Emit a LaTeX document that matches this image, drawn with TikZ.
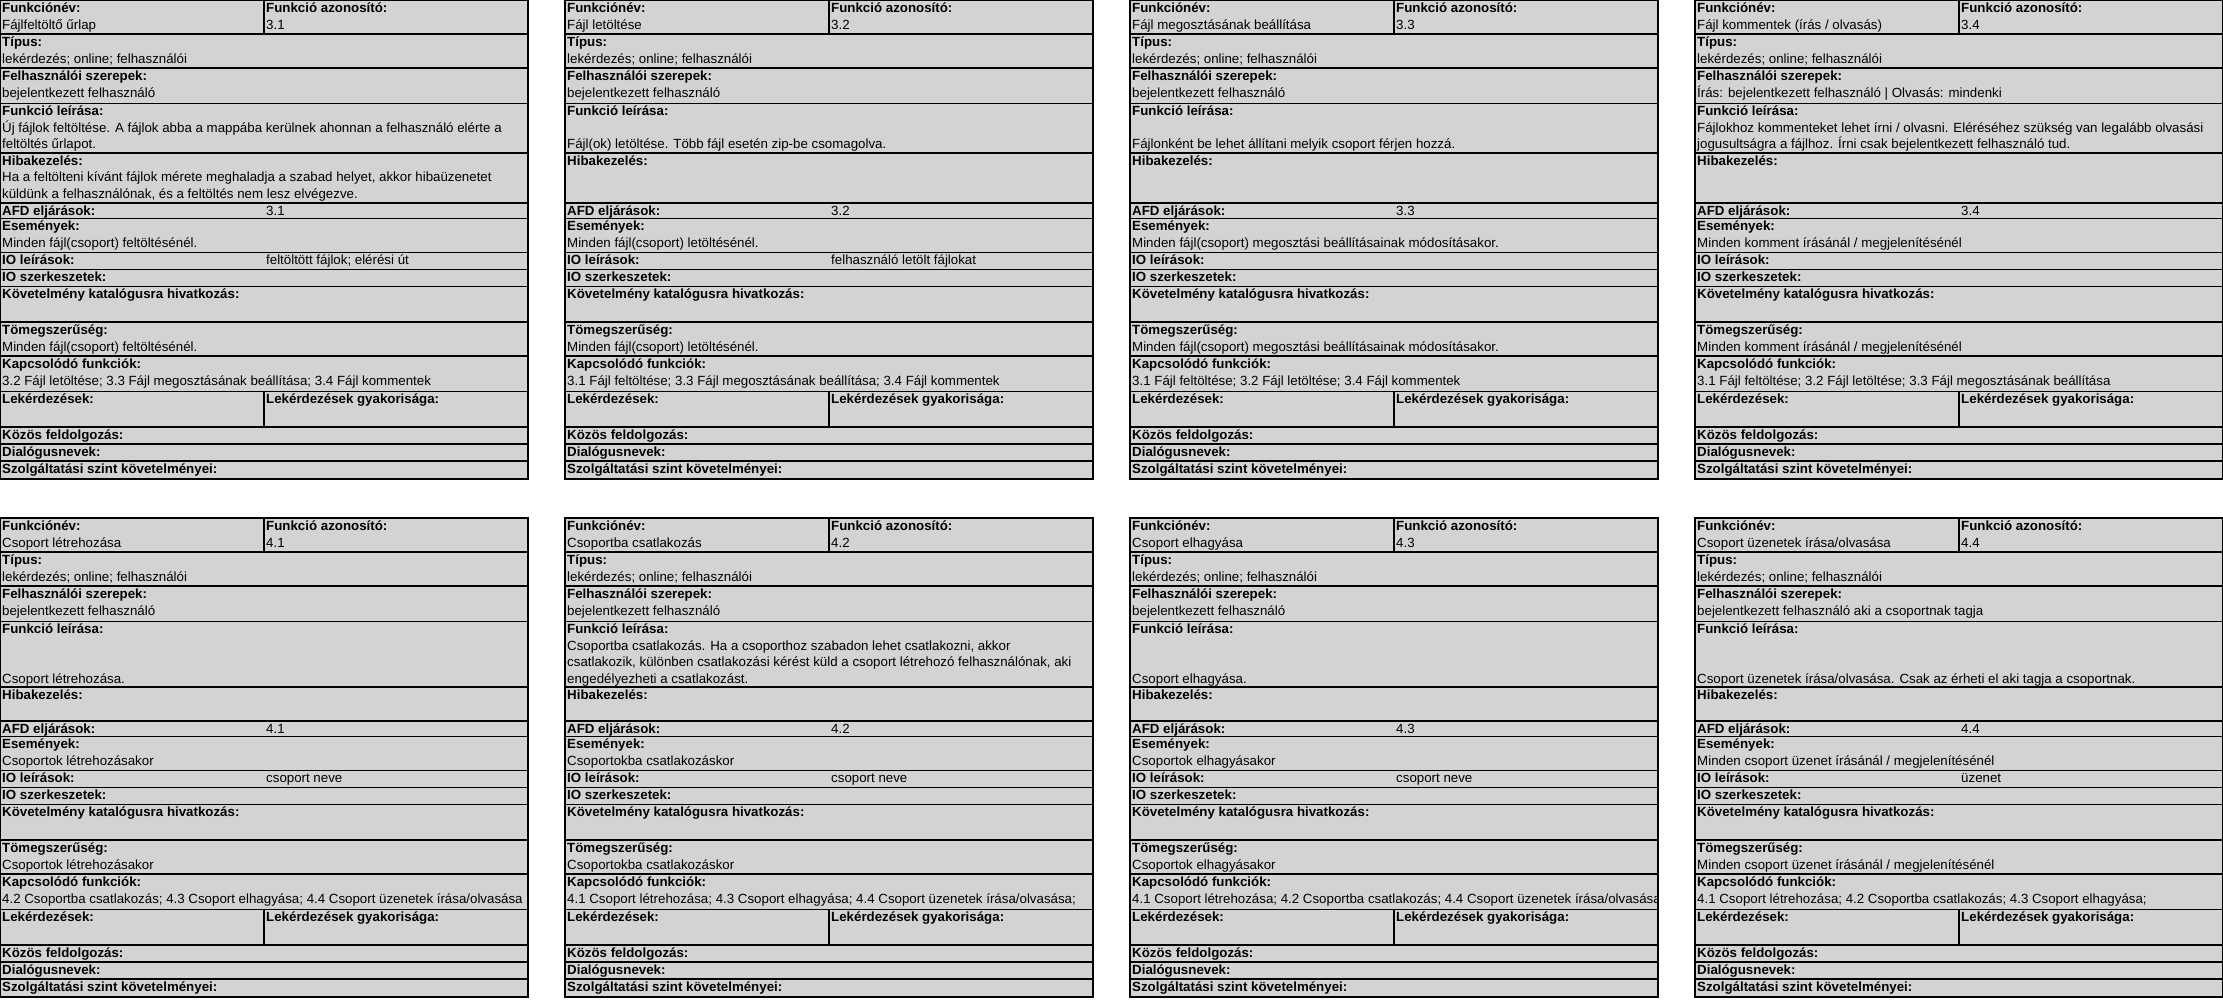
\documentclass[tikz,border=0pt]{standalone}
\usepackage{fontspec}
\setmainfont{Liberation Sans}

\definecolor{cellaszurke}{RGB}{211,211,211}
\tikzset{
  cella/.style={fill=cellaszurke},
  racs/.style={line width=1.2pt},
  cim/.style={anchor=base west, inner sep=0pt, font=\fontsize{13.3}{16}\selectfont\bfseries},
  ertek/.style={anchor=base west, inner sep=0pt, font=\fontsize{13.3}{16}\selectfont}
}

% #1 prefix, #2/#3 bal felso sarok, #4 leiras/hibakezeles hatar, #5 ertekek
\newcommand{\urlap}[5]{%
  \begin{scope}[shift={(#2,#3)}]
    \fill[cella] (0,0) rectangle (528,479);
    \begin{scope}
      \clip (0,0) rectangle (528,479);
      \foreach \y/\t [count=\i] in {12/Funkciónév:, 46/Típus:, 80/Felhasználói szerepek:,
          115.5/Funkció leírása:, 215/AFD eljárások:, 230.5/Események:, 264.5/IO leírások:,
          281.5/IO szerkeszetek:, 298.5/Követelmény katalógusra hivatkozás:, 334/Tömegszerűség:,
          368/Kapcsolódó funkciók:, 403.5/Lekérdezések:, 439/Közös feldolgozás:,
          456/Dialógusnevek:, 473/Szolgáltatási szint követelményei:}
        \node[cim] (#1-c\i) at (2,\y) {\t};
      \node[cim] (#1-azon) at (266,12) {Funkció azonosító:};
      \node[cim] (#1-hiba) at (2,{#4+12}) {Hibakezelés:};
      \node[cim] (#1-gyak) at (266,403.5) {Lekérdezések gyakorisága:};
      \node[ertek] (#1-tipus) at (2,63) {lekérdezés; online; felhasználói};
      #5
    \end{scope}
    \foreach \y in {34,68,103.5,#4,203,218.5,252.5,269.5,286.5,322,356,391.5,427,444,461}
      \draw[racs] (0,\y) -- (528,\y);
    \draw[racs] (264,0) -- (264,34);
    \draw[racs] (264,391.5) -- (264,427);
    \draw[racs] (0,0) rectangle (528,479);
  \end{scope}}

\begin{document}
\begin{tikzpicture}[x=1pt,y=-1pt]
  \useasboundingbox (0,0) rectangle (2223,999);

  %%%%% 3.x %%%%%
  \urlap{a1}{0}{0}{153}{
    \node[ertek] (a1-nev) at (2,29) {Fájlfeltöltő űrlap};
    \node[ertek] (a1-id) at (266,29) {3.1};
    \node[ertek] (a1-szerep) at (2,97) {bejelentkezett felhasználó};
    \node[ertek] (a1-leir1) at (2,132) {Új fájlok feltöltése. A fájlok abba a mappába kerülnek ahonnan a felhasználó elérte a};
    \node[ertek] (a1-leir2) at (2,148.5) {feltöltés űrlapot.};
    \node[ertek] (a1-hiba1) at (2,181.5) {Ha a feltölteni kívánt fájlok mérete meghaladja a szabad helyet, akkor hibaüzenetet};
    \node[ertek] (a1-hiba2) at (2,198) {küldünk a felhasználónak, és a feltöltés nem lesz elvégezve.};
    \node[ertek] (a1-afd) at (266,215) {3.1};
    \node[ertek] (a1-esem) at (2,247.5) {Minden fájl(csoport) feltöltésénél.};
    \node[ertek] (a1-io) at (266,264.5) {feltöltött fájlok; elérési út};
    \node[ertek] (a1-tomeg) at (2,351) {Minden fájl(csoport) feltöltésénél.};
    \node[ertek] (a1-kapcs) at (2,385.5) {3.2 Fájl letöltése; 3.3 Fájl megosztásának beállítása; 3.4 Fájl kommentek};
  }
  \urlap{a2}{565}{0}{153}{
    \node[ertek] (a2-nev) at (2,29) {Fájl letöltése};
    \node[ertek] (a2-id) at (266,29) {3.2};
    \node[ertek] (a2-szerep) at (2,97) {bejelentkezett felhasználó};
    \node[ertek] (a2-leir2) at (2,148.5) {Fájl(ok) letöltése. Több fájl esetén zip-be csomagolva.};
    \node[ertek] (a2-afd) at (266,215) {3.2};
    \node[ertek] (a2-esem) at (2,247.5) {Minden fájl(csoport) letöltésénél.};
    \node[ertek] (a2-io) at (266,264.5) {felhasználó letölt fájlokat};
    \node[ertek] (a2-tomeg) at (2,351) {Minden fájl(csoport) letöltésénél.};
    \node[ertek] (a2-kapcs) at (2,385.5) {3.1 Fájl feltöltése; 3.3 Fájl megosztásának beállítása; 3.4 Fájl kommentek};
  }
  \urlap{a3}{1130}{0}{153}{
    \node[ertek] (a3-nev) at (2,29) {Fájl megosztásának beállítása};
    \node[ertek] (a3-id) at (266,29) {3.3};
    \node[ertek] (a3-szerep) at (2,97) {bejelentkezett felhasználó};
    \node[ertek] (a3-leir2) at (2,148.5) {Fájlonként be lehet állítani melyik csoport férjen hozzá.};
    \node[ertek] (a3-afd) at (266,215) {3.3};
    \node[ertek] (a3-esem) at (2,247.5) {Minden fájl(csoport) megosztási beállításainak módosításakor.};
    \node[ertek] (a3-tomeg) at (2,351) {Minden fájl(csoport) megosztási beállításainak módosításakor.};
    \node[ertek] (a3-kapcs) at (2,385.5) {3.1 Fájl feltöltése; 3.2 Fájl letöltése; 3.4 Fájl kommentek};
  }
  \urlap{a4}{1695}{0}{153}{
    \node[ertek] (a4-nev) at (2,29) {Fájl kommentek (írás / olvasás)};
    \node[ertek] (a4-id) at (266,29) {3.4};
    \node[ertek] (a4-szerep) at (2,97) {Írás: bejelentkezett felhasználó | Olvasás: mindenki};
    \node[ertek] (a4-leir1) at (2,132) {Fájlokhoz kommenteket lehet írni / olvasni. Eléréséhez szükség van legalább olvasási};
    \node[ertek] (a4-leir2) at (2,148.5) {jogusultságra a fájlhoz. Írni csak bejelentkezett felhasználó tud.};
    \node[ertek] (a4-afd) at (266,215) {3.4};
    \node[ertek] (a4-esem) at (2,247.5) {Minden komment írásánál / megjelenítésénél};
    \node[ertek] (a4-tomeg) at (2,351) {Minden komment írásánál / megjelenítésénél};
    \node[ertek] (a4-kapcs) at (2,385.5) {3.1 Fájl feltöltése; 3.2 Fájl letöltése; 3.3 Fájl megosztásának beállítása};
  }

  %%%%% 4.x %%%%%
  \urlap{b1}{0}{518}{169}{
    \node[ertek] (b1-nev) at (2,29) {Csoport létrehozása};
    \node[ertek] (b1-id) at (266,29) {4.1};
    \node[ertek] (b1-szerep) at (2,97) {bejelentkezett felhasználó};
    \node[ertek] (b1-leir3) at (2,165) {Csoport létrehozása.};
    \node[ertek] (b1-afd) at (266,215) {4.1};
    \node[ertek] (b1-esem) at (2,247.5) {Csoportok létrehozásakor};
    \node[ertek] (b1-io) at (266,264.5) {csoport neve};
    \node[ertek] (b1-tomeg) at (2,351) {Csoportok létrehozásakor};
    \node[ertek] (b1-kapcs) at (2,385.5) {4.2 Csoportba csatlakozás; 4.3 Csoport elhagyása; 4.4 Csoport üzenetek írása/olvasása};
  }
  \urlap{b2}{565}{518}{169}{
    \node[ertek] (b2-nev) at (2,29) {Csoportba csatlakozás};
    \node[ertek] (b2-id) at (266,29) {4.2};
    \node[ertek] (b2-szerep) at (2,97) {bejelentkezett felhasználó};
    \node[ertek] (b2-leir1) at (2,132) {Csoportba csatlakozás. Ha a csoporthoz szabadon lehet csatlakozni, akkor};
    \node[ertek] (b2-leir2) at (2,148.5) {csatlakozik, különben csatlakozási kérést küld a csoport létrehozó felhasználónak, aki};
    \node[ertek] (b2-leir3) at (2,165) {engedélyezheti a csatlakozást.};
    \node[ertek] (b2-afd) at (266,215) {4.2};
    \node[ertek] (b2-esem) at (2,247.5) {Csoportokba csatlakozáskor};
    \node[ertek] (b2-io) at (266,264.5) {csoport neve};
    \node[ertek] (b2-tomeg) at (2,351) {Csoportokba csatlakozáskor};
    \node[ertek] (b2-kapcs) at (2,385.5) {4.1 Csoport létrehozása; 4.3 Csoport elhagyása; 4.4 Csoport üzenetek írása/olvasása;};
  }
  \urlap{b3}{1130}{518}{169}{
    \node[ertek] (b3-nev) at (2,29) {Csoport elhagyása};
    \node[ertek] (b3-id) at (266,29) {4.3};
    \node[ertek] (b3-szerep) at (2,97) {bejelentkezett felhasználó};
    \node[ertek] (b3-leir3) at (2,165) {Csoport elhagyása.};
    \node[ertek] (b3-afd) at (266,215) {4.3};
    \node[ertek] (b3-esem) at (2,247.5) {Csoportok elhagyásakor};
    \node[ertek] (b3-io) at (266,264.5) {csoport neve};
    \node[ertek] (b3-tomeg) at (2,351) {Csoportok elhagyásakor};
    \node[ertek] (b3-kapcs) at (2,385.5) {4.1 Csoport létrehozása; 4.2 Csoportba csatlakozás; 4.4 Csoport üzenetek írása/olvasása;};
  }
  \urlap{b4}{1695}{518}{169}{
    \node[ertek] (b4-nev) at (2,29) {Csoport üzenetek írása/olvasása};
    \node[ertek] (b4-id) at (266,29) {4.4};
    \node[ertek] (b4-szerep) at (2,97) {bejelentkezett felhasználó aki a csoportnak tagja};
    \node[ertek] (b4-leir3) at (2,165) {Csoport üzenetek írása/olvasása. Csak az érheti el aki tagja a csoportnak.};
    \node[ertek] (b4-afd) at (266,215) {4.4};
    \node[ertek] (b4-esem) at (2,247.5) {Minden csoport üzenet írásánál / megjelenítésénél};
    \node[ertek] (b4-io) at (266,264.5) {üzenet};
    \node[ertek] (b4-tomeg) at (2,351) {Minden csoport üzenet írásánál / megjelenítésénél};
    \node[ertek] (b4-kapcs) at (2,385.5) {4.1 Csoport létrehozása; 4.2 Csoportba csatlakozás; 4.3 Csoport elhagyása;};
  }
\end{tikzpicture}
\end{document}
